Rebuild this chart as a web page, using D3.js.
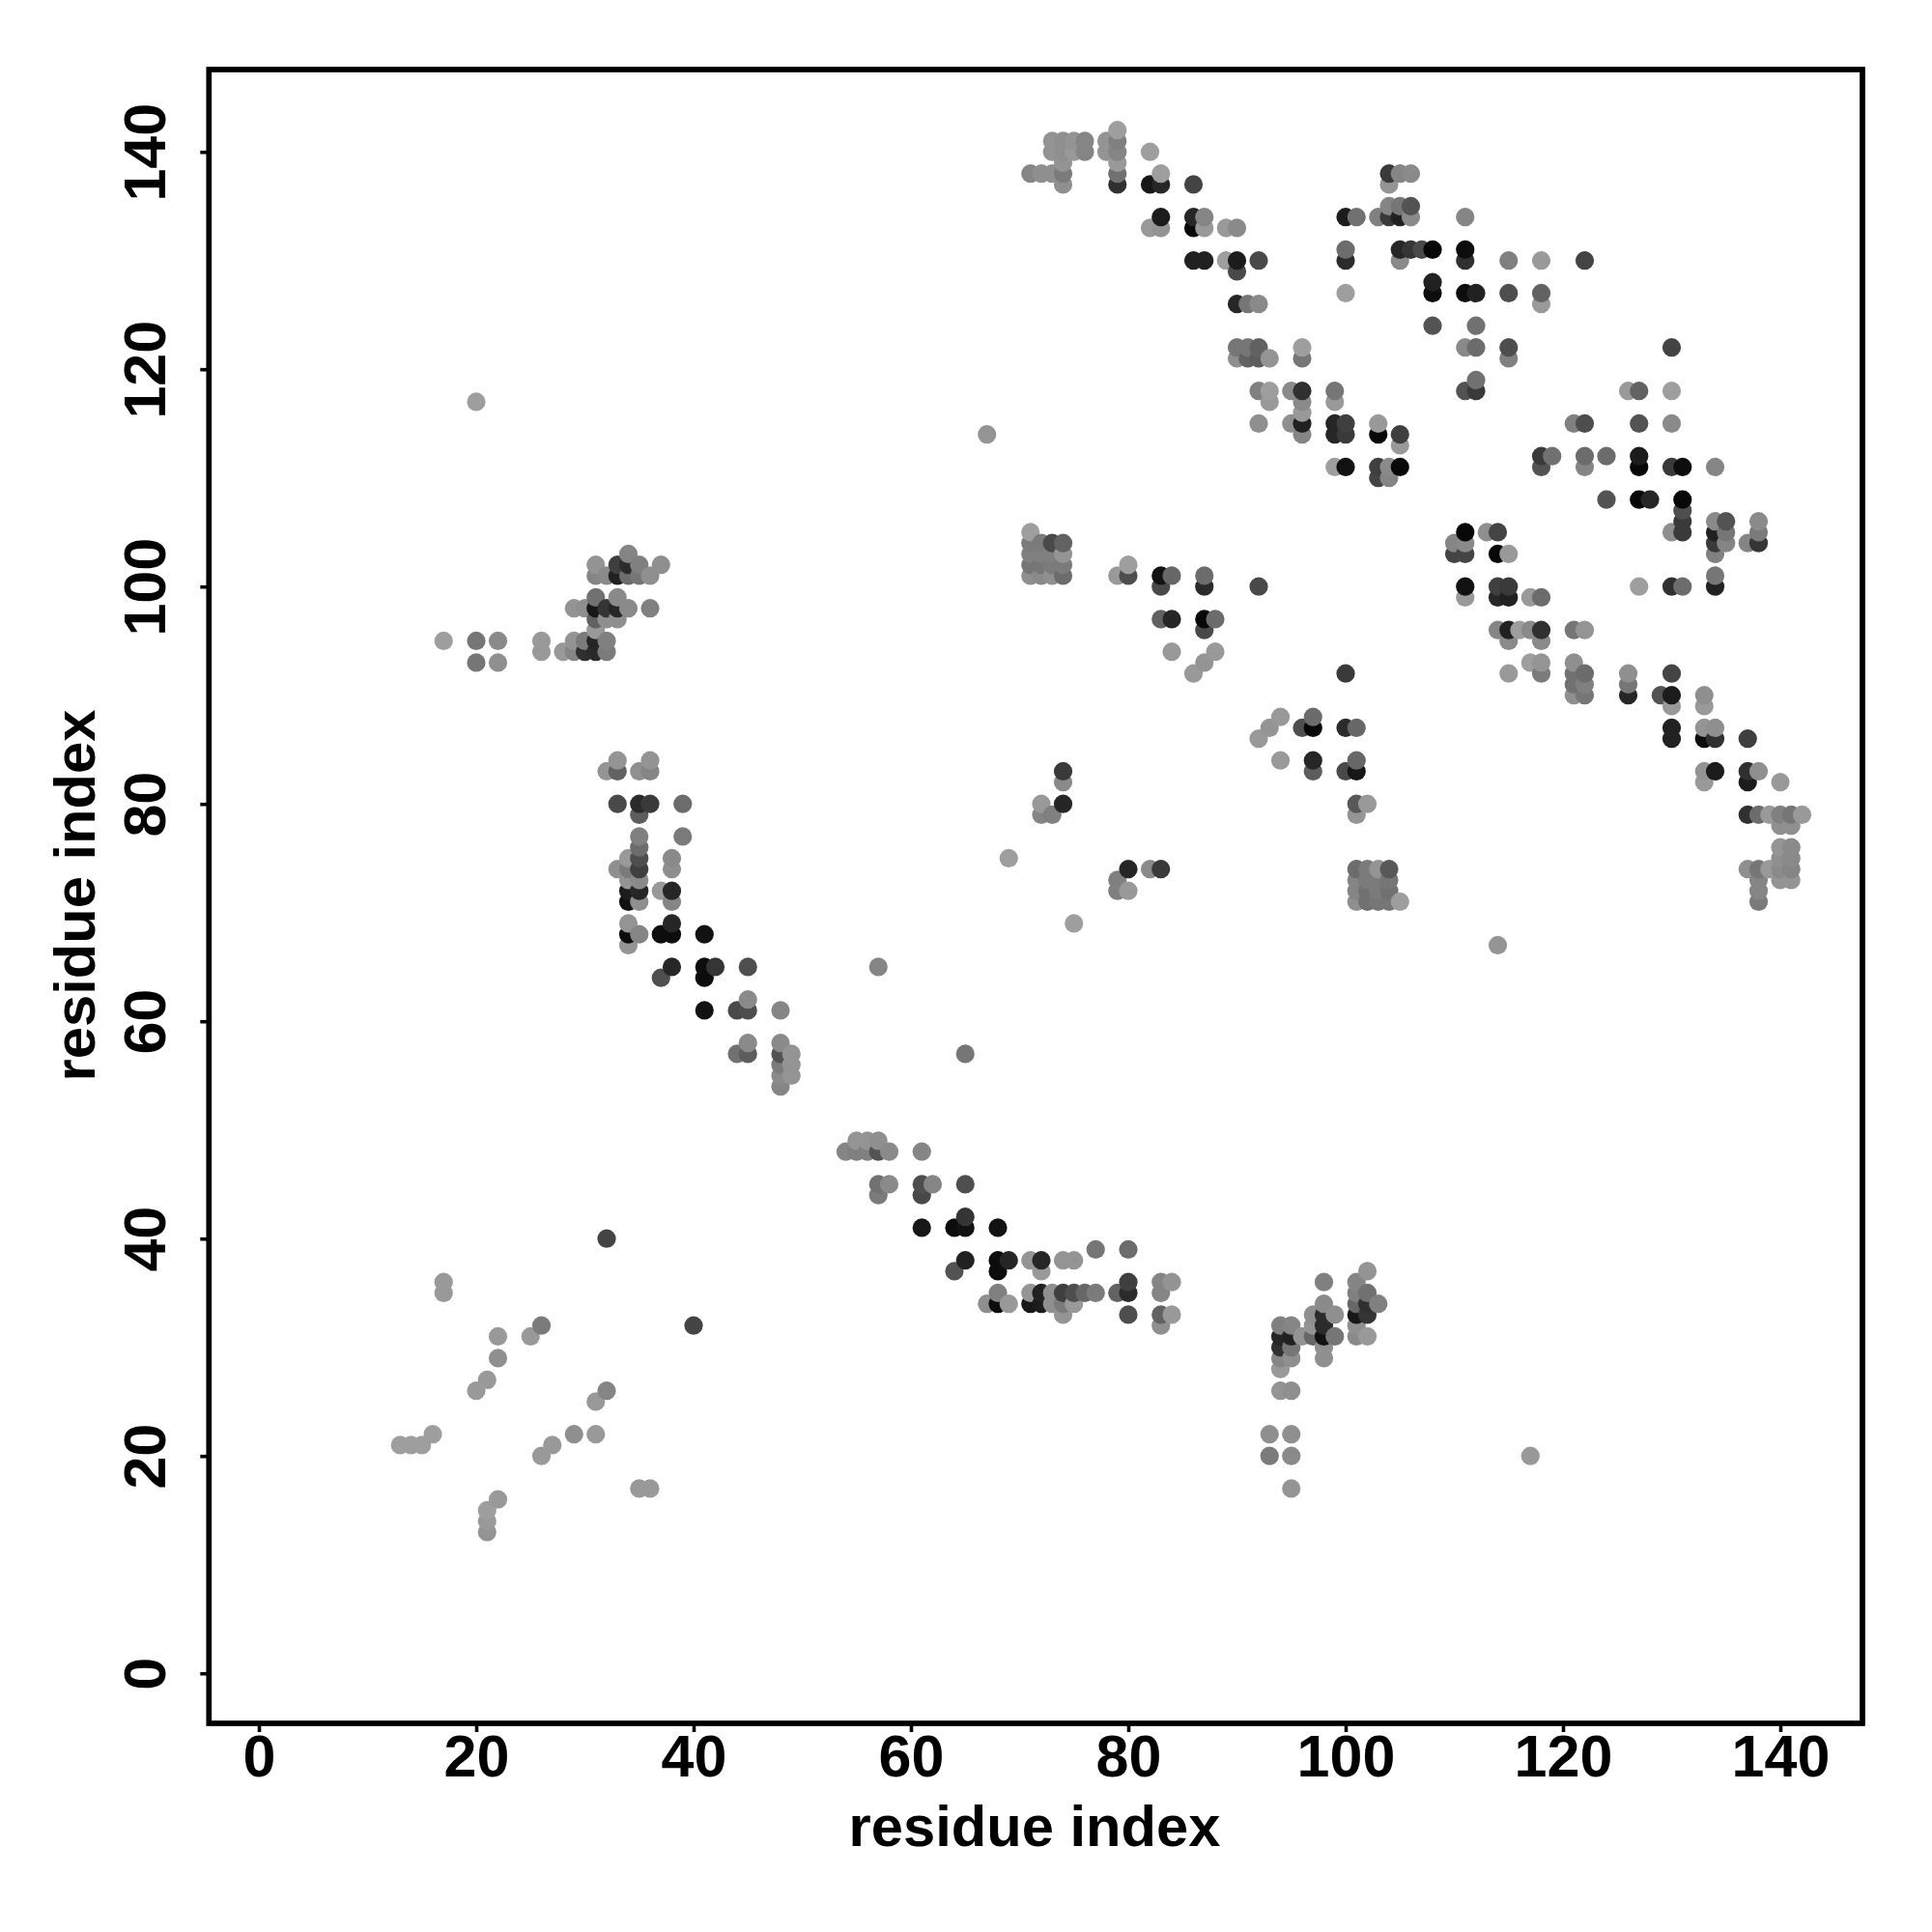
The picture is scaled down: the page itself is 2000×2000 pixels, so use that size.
<!DOCTYPE html>
<html><head><meta charset="utf-8">
<script src="https://cdn.jsdelivr.net/npm/d3@7"></script>
<style>html,body{margin:0;padding:0;background:#fff}svg{display:block}text{font-family:"Liberation Sans",Arial,sans-serif;font-weight:700;fill:#000}</style>
</head><body><svg id="c" width="2000" height="2000"></svg>
<script>
// residue i (x), and for each one the contacts as [residue j, grey level]
const residues = [13,14,15,16,17,20,21,22,25,26,27,28,29,30,31,32,33,34,35,36,37,38,39,40,41,42,44,45,48,49,54,55,56,57,58,61,62,64,65,67,68,69,71,72,73,74,75,76,77,78,79,80,82,83,84,86,87,88,89,90,91,92,93,94,95,96,97,98,99,100,101,102,103,104,105,106,107,108,110,111,112,113,114,115,116,117,118,119,121,122,124,126,127,128,129,130,131,133,134,135,137,138,139,140,141,142];
const contacts = [
[[21,150]],[[21,150]],[[21,150]],[[22,150]],
[[35,145],[36,145],[95,150]],
[[26,145],[93,110],[95,110],[117,150]],
[[13,140],[14,145],[15,150],[27,145]],
[[16,145],[29,135],[31,145],[93,135],[95,130]],
[[31,145]],
[[20,145],[32,115],[94,145],[95,145]],
[[21,145]],
[[94,145]],
[[22,135],[94,125],[95,140],[98,140]],
[[94,40],[95,115],[98,135]],
[[22,145],[25,145],[94,35],[95,30],[96,145],[97,90],[98,15],[99,105],[101,125],[102,140]],
[[26,125],[40,60],[83,140],[94,115],[95,120],[97,135],[98,45],[101,130]],
[[74,135],[80,65],[83,90],[84,140],[97,135],[98,30],[99,130],[101,25],[102,55]],
[[67,140],[68,5],[69,140],[71,10],[72,20],[73,140],[74,115],[75,145],[98,130],[101,100],[102,35],[103,125]],
[[17,145],[68,125],[71,135],[72,30],[73,130],[74,55],[75,70],[76,100],[77,120],[79,85],[80,35],[83,135],[101,110],[102,120]],
[[17,145],[80,50],[83,125],[84,140],[98,120],[101,135]],
[[64,70],[68,5],[72,145],[102,135]],
[[65,30],[68,5],[69,30],[71,125],[72,30],[74,135],[75,130]],
[[77,115],[80,100]],
[[32,60]],
[[61,10],[64,5],[65,5],[68,10]],
[[65,45]],
[[57,105],[61,65]],
[[57,85],[58,130],[61,70],[62,130],[65,70]],
[[54,125],[55,130],[56,115],[57,75],[58,130],[61,125]],
[[55,140],[56,140],[57,140]],
[[48,125]],
[[48,120],[49,140]],
[[48,120],[49,140]],
[[44,115],[45,105],[48,75],[49,135],[65,125]],
[[45,130],[48,130]],
[[41,15],[44,65],[45,70],[48,125]],
[[45,125]],
[[37,75],[41,5]],
[[38,25],[41,10],[42,45],[45,70],[57,110]],
[[34,135],[114,140]],
[[34,5],[35,120],[37,5],[38,5],[41,10]],
[[34,145],[38,30],[75,150]],
[[34,15],[35,140],[38,140],[101,135],[102,110],[103,120],[104,115],[105,150],[138,125]],
[[34,20],[35,25],[37,145],[38,30],[79,125],[80,145],[101,130],[102,110],[103,120],[104,115],[138,135]],
[[34,135],[35,135],[79,120],[101,135],[102,115],[103,120],[104,65],[138,135],[140,140],[141,140]],
[[33,140],[34,115],[35,55],[38,140],[80,30],[82,130],[83,50],[101,100],[102,115],[103,140],[104,90],[137,135],[138,115],[139,140],[140,135],[141,135]],
[[34,145],[35,70],[38,140],[69,150],[140,145],[141,140]],
[[35,95],[140,125],[141,125]],
[[35,115],[39,110]],
[[140,140],[141,140]],
[[35,90],[72,120],[73,120],[101,145],[137,40],[138,105],[139,145],[140,125],[141,120],[142,150]],
[[33,70],[35,35],[36,55],[39,100],[72,145],[74,30],[101,70],[102,150]],
[[74,130],[133,145],[137,15],[140,150]],
[[32,135],[33,90],[35,125],[36,125],[74,50],[97,90],[100,65],[101,10],[133,140],[134,20],[137,30],[138,150]],
[[33,145],[36,140],[94,145],[97,30],[101,95]],
[[92,145],[130,25],[133,0],[134,30],[137,60]],
[[93,140],[96,65],[97,0],[100,35],[101,100],[130,25],[133,145],[134,125]],
[[94,145],[97,100]],
[[130,150],[133,145]],
[[121,135],[122,110],[126,30],[129,65],[130,20],[133,130]],
[[121,90],[122,110],[126,110]],
[[86,145],[100,65],[115,135],[118,120],[121,85],[122,90],[126,130],[130,65]],
[[20,115],[22,135],[87,140],[117,145],[118,150],[121,140]],
[[26,140],[28,145],[29,125],[30,40],[31,30],[32,120],[84,145],[88,145]],
[[17,140],[20,130],[22,135],[26,135],[29,135],[30,110],[31,25],[32,125],[115,135],[118,130]],
[[31,140],[87,70],[114,125],[115,25],[116,145],[117,130],[118,40],[121,110],[122,150]],
[[31,95],[32,140],[33,135],[83,85],[84,30],[87,0],[88,100]],
[[29,135],[30,135],[31,10],[32,35],[33,35],[34,130],[36,120]],
[[31,110],[33,135],[111,150],[114,30],[115,30],[117,145],[118,110]],
[[83,65],[87,35],[92,50],[111,10],[114,50],[115,55],[127,150],[130,35],[131,100],[134,20]],
[[31,130],[32,135],[33,15],[34,95],[35,120],[36,125],[71,135],[72,125],[73,125],[74,100],[79,140],[80,80],[83,15],[84,95],[87,95],[134,105]],
[[31,145],[33,45],[34,40],[35,105],[37,140],[71,105],[72,105],[73,115],[74,115],[80,145]],
[[34,120],[71,110],[72,115],[73,115],[74,140],[110,60],[111,55],[114,0],[115,145],[134,120]],
[[71,110],[72,105],[73,110],[74,80],[110,125],[111,130],[134,50],[135,125],[137,140],[138,50]],
[[71,150],[111,0],[113,145],[114,55],[130,130],[131,30],[134,25],[135,110],[138,125]],
[[131,45],[134,130],[135,75],[138,130]],
[[131,65]],
[[124,75],[127,5],[128,25],[131,0]],
[[103,60],[104,125]],
[[99,145],[100,10],[103,60],[104,130],[105,0],[118,75],[122,130],[127,5],[130,40],[131,5],[134,125]],
[[118,50],[119,105],[122,100],[124,105],[127,25]],
[[105,135]],
[[67,140],[96,125],[99,30],[100,55],[103,0],[105,60]],
[[92,145],[95,130],[96,25],[99,25],[100,50],[103,145],[121,120],[122,70],[127,70],[130,120]],
[[96,150]],
[[20,145],[93,150],[96,130],[99,145]],
[[92,115],[93,140],[95,130],[96,40],[99,100],[111,75],[112,50],[126,145],[127,90],[130,145]],
[[112,105]],
[[90,135],[91,105],[92,105],[93,135],[96,110],[115,120]],
[[90,110],[91,120],[92,100],[96,140],[111,125],[112,100],[115,70],[130,60]],
[[108,75],[112,100]],
[[90,30],[91,110],[92,135],[118,145]],
[[100,150],[108,0],[111,0],[112,20],[115,75],[118,90]],
[[108,30]],
[[90,75]],
[[86,25],[87,25],[89,145],[90,20],[92,60],[100,40],[105,135],[111,50],[115,130],[118,150],[122,60]],
[[100,100],[105,50],[106,50],[107,70],[108,0],[111,5]],
[[82,145],[83,140],[86,5],[87,140],[89,145],[90,135]],
[[83,20],[86,40],[87,135],[100,25],[101,110],[103,120],[104,50],[105,25],[106,130],[111,125]],
[[104,125],[105,110],[106,75]],
[[74,135],[79,40],[82,20],[83,40],[86,55],[104,125]],
[[71,115],[72,125],[73,125],[74,110],[79,100],[83,135],[104,45],[105,115],[106,130]],
[[74,145],[79,145]],
[[73,140],[74,130],[75,135],[76,140],[78,135],[79,120],[82,145]],
[[73,140],[74,125],[75,130],[76,130],[78,135],[79,110]],
[[79,145]]
];
const tickValues = [0,20,40,60,80,100,120,140];
const axisLabel = "residue index";

const svg = d3.select("#c");
const x = d3.scaleLinear().domain([0,140]).range([268,1843]);
const y = d3.scaleLinear().domain([0,140]).range([1732.2,157.2]);
const L=216.3,R=1928,T=72,B=1784;

const points = residues.flatMap((r,i)=>contacts[i].map(c=>({i:r,j:c[0],g:c[1]})));
svg.append("g").selectAll("circle").data(points).join("circle")
  .attr("cx",d=>x(d.i)).attr("cy",d=>y(d.j)).attr("r",9.6)
  .attr("fill",d=>d3.rgb(d.g+8,d.g+8,d.g+8));

svg.append("rect").attr("x",L).attr("y",T).attr("width",R-L).attr("height",B-T)
  .attr("fill","none").attr("stroke","#000").attr("stroke-width",5.7);

const gx = svg.append("g").attr("transform",`translate(0,${B})`)
  .call(d3.axisBottom(x).tickValues(tickValues).tickSize(9).tickFormat(d3.format("d")));
const gy = svg.append("g").attr("transform",`translate(${L},0)`)
  .call(d3.axisLeft(y).tickValues(tickValues).tickSize(9).tickFormat(d3.format("d")));
for (const g of [gx,gy]) {
  g.select(".domain").remove();
  g.selectAll("line").attr("stroke","#000").attr("stroke-width",3.6);
}
gx.selectAll("text").attr("font-size",61).attr("dy",null).attr("y",55);
gy.selectAll("text").attr("font-size",61).attr("dy",null).attr("x",null)
  .attr("text-anchor","middle")
  .attr("transform",()=>`translate(${171-L},0) rotate(-90)`);
svg.selectAll(".tick text").style("font-family",'"Liberation Sans"').style("font-weight",700);

svg.append("text").attr("x",1071).attr("y",1911).attr("text-anchor","middle").attr("font-size",59.7).text(axisLabel);
svg.append("text").attr("transform","translate(98,927) rotate(-90)").attr("text-anchor","middle").attr("font-size",59.7).text(axisLabel);
</script></body></html>
